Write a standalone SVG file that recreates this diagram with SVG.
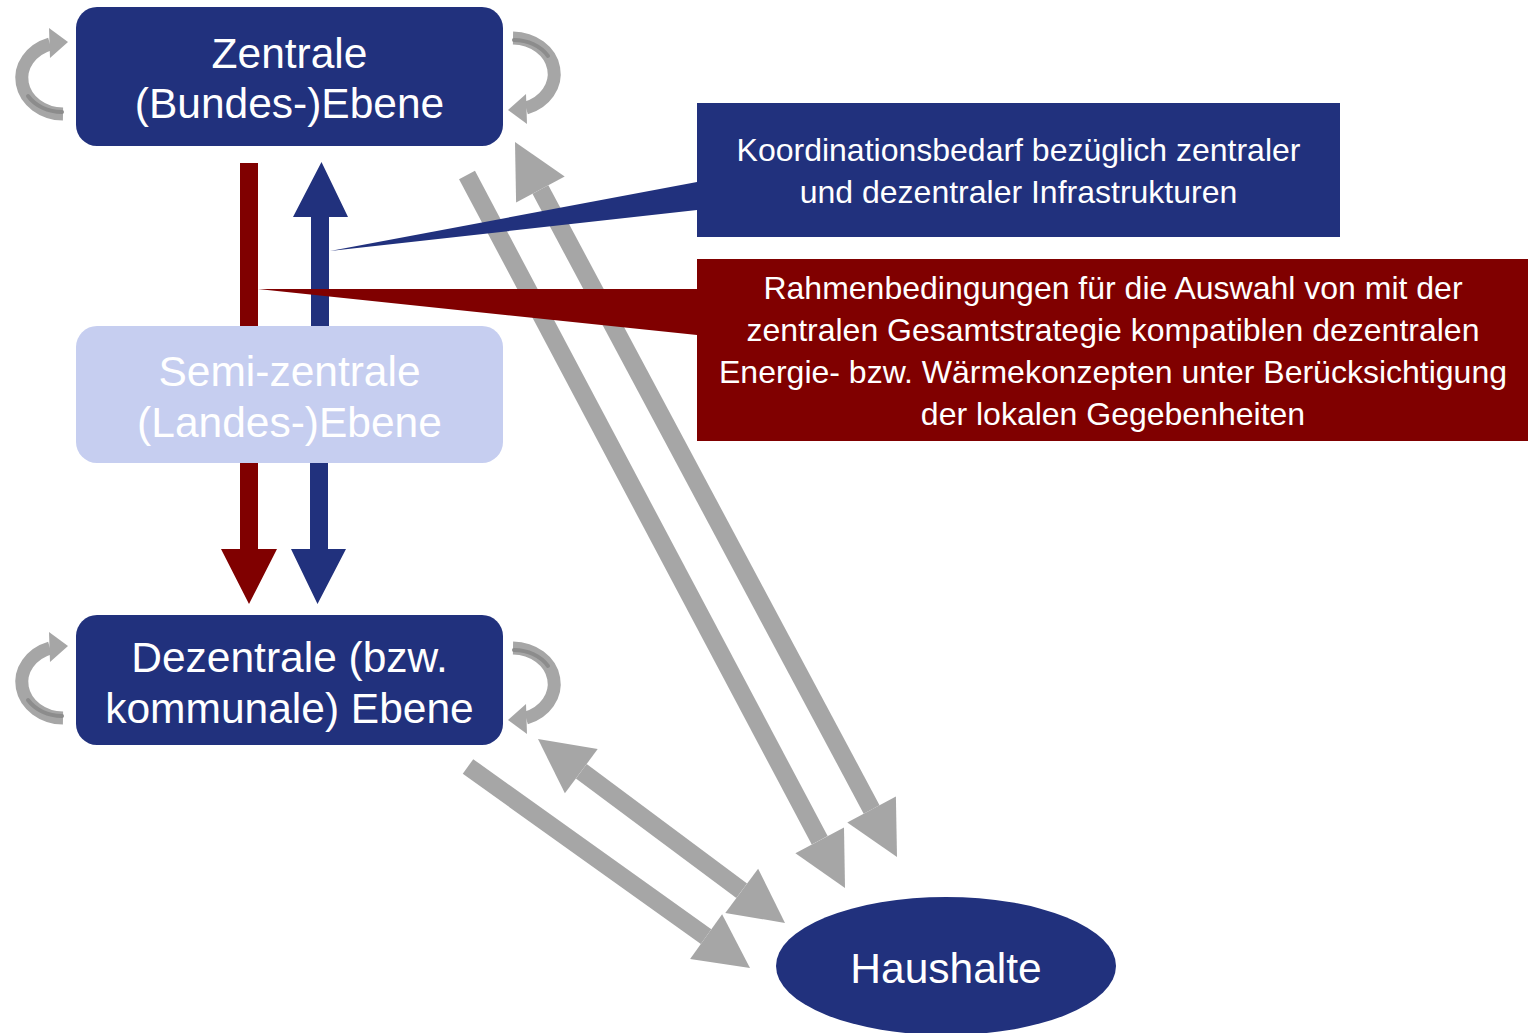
<svg xmlns="http://www.w3.org/2000/svg" xmlns:xlink="http://www.w3.org/1999/xlink" width="1528" height="1033" viewBox="0 0 1528 1033">
  <style>
    .lbl { font-family: "Liberation Sans", Arial, sans-serif; fill: #ffffff; text-anchor: middle; }
    .big { font-size: 42.5px; }
    .call { font-size: 32px; }
    .blue { fill: #21317D; }
    .red { fill: #800000; }
    .light { fill: #C6CEF0; }
    .gray { fill: #A6A6A6; }
    .shaft { stroke: #A6A6A6; stroke-width: 18; fill: none; }
    .loop { stroke: #A6A6A6; stroke-width: 13; fill: none; }
    .loopShade { stroke: #8C8C8C; stroke-width: 4; fill: none; stroke-linecap: round; }
  </style>
  <defs>
    <!-- curved self-loop arrow: tail at bottom, head at top pointing right -->
    <g id="selfLoop">
      <path class="loop" d="M 63 114 A 42 36 0 0 1 50 44"/>
      <path class="loopShade" d="M 62 112 A 40 33.5 0 0 1 28 96"/>
      <polygon class="gray" points="49,28 68,42 50,58"/>
    </g>
  </defs>

  <g id="connectors">
    <!-- self loops -->
    <use xlink:href="#selfLoop" href="#selfLoop"/>
    <use xlink:href="#selfLoop" href="#selfLoop" transform="rotate(180 288 76)"/>
    <use xlink:href="#selfLoop" href="#selfLoop" transform="translate(0 604)"/>
    <use xlink:href="#selfLoop" href="#selfLoop" transform="translate(0 610) rotate(180 288 76)"/>

    <!-- Zentrale -> Haushalte -->
    <line class="shaft" x1="467" y1="175" x2="819.7" y2="840.3"/>
    <polygon class="gray" points="795.4,853.2 844,827.4 845,888"/>
    <!-- Haushalte <-> Zentrale -->
    <line class="shaft" x1="540.4" y1="189.6" x2="871.6" y2="809.4"/>
    <polygon class="gray" points="516.1,202.6 564.7,176.6 515,142"/>
    <polygon class="gray" points="847.3,822.4 895.9,796.4 897,857"/>
    <!-- Dezentrale -> Haushalte -->
    <line class="shaft" x1="468" y1="766.5" x2="706.1" y2="936.6"/>
    <polygon class="gray" points="690.1,959 722.1,914.2 750,968"/>
    <!-- Dezentrale <-> Haushalte -->
    <line class="shaft" x1="581.3" y1="771.2" x2="741.7" y2="890.8"/>
    <polygon class="gray" points="564.9,793.3 597.7,749.1 538,739"/>
    <polygon class="gray" points="725.3,912.9 758.1,868.7 785,923"/>

    <!-- vertical arrows between the levels -->
    <rect class="red" x="240" y="163" width="18" height="165"/>
    <polygon class="blue" points="311,328 311,217 293,217 321.5,162 348,217 329,217 329,328"/>
    <polygon class="red" points="240,460 258,460 258,549 277,549 249,604 221,549 240,549"/>
    <polygon class="blue" points="310,460 328,460 328,549 346,549 317.5,604 291,549 310,549"/>
  </g>

  <g id="node-zentrale">
    <rect class="blue" x="76" y="7" width="427" height="139" rx="21"/>
    <text class="lbl big" x="289.5" y="68">Zentrale</text>
    <text class="lbl big" x="289.5" y="118">(Bundes-)Ebene</text>
  </g>

  <g id="node-semizentrale">
    <rect class="light" x="76" y="326" width="427" height="137" rx="21"/>
    <text class="lbl big" x="289.5" y="386">Semi-zentrale</text>
    <text class="lbl big" x="289.5" y="437">(Landes-)Ebene</text>
  </g>

  <g id="node-dezentrale">
    <rect class="blue" x="76" y="615" width="427" height="130" rx="21"/>
    <text class="lbl big" x="289.5" y="672">Dezentrale (bzw.</text>
    <text class="lbl big" x="289.5" y="723">kommunale) Ebene</text>
  </g>

  <g id="node-haushalte">
    <ellipse class="blue" cx="946" cy="966" rx="170" ry="69"/>
    <text class="lbl big" x="946" y="983">Haushalte</text>
  </g>

  <g id="callout-koordination">
    <polygon class="blue" points="330,251 697,182 697,210"/>
    <rect class="blue" x="697" y="103" width="643" height="134"/>
    <text class="lbl call" x="1018.5" y="161">Koordinationsbedarf bezüglich zentraler</text>
    <text class="lbl call" x="1018.5" y="203">und dezentraler Infrastrukturen</text>
  </g>

  <g id="callout-rahmenbedingungen">
    <polygon class="red" points="258,289 697,289 697,335"/>
    <rect class="red" x="697" y="259" width="831" height="182"/>
    <text class="lbl call" x="1113" y="299">Rahmenbedingungen für die Auswahl von mit der</text>
    <text class="lbl call" x="1113" y="341">zentralen Gesamtstrategie kompatiblen dezentralen</text>
    <text class="lbl call" x="1113" y="383">Energie- bzw. Wärmekonzepten unter Berücksichtigung</text>
    <text class="lbl call" x="1113" y="425">der lokalen Gegebenheiten</text>
  </g>
</svg>
